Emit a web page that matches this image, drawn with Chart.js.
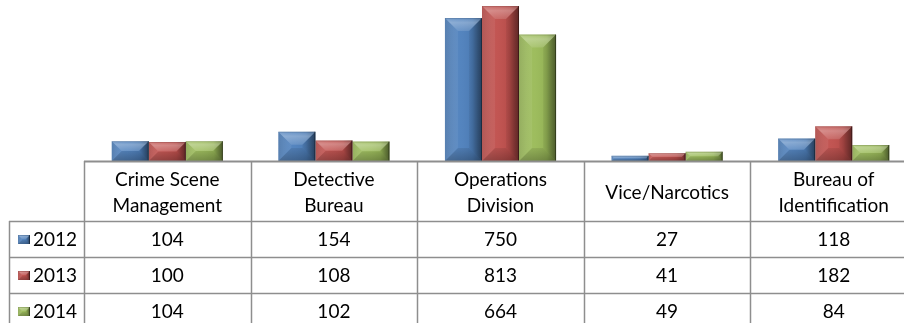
<!DOCTYPE html>
<html>
<head>
<meta charset="utf-8">
<script src="https://cdn.jsdelivr.net/npm/chart.js@4/dist/chart.umd.min.js"></script>
<style>
  html, body { margin: 0; padding: 0; background: #ffffff; overflow: hidden; }
  #wrap { position: relative; width: 920px; height: 323px; }
</style>
</head>
<body>
<div id="wrap"><canvas id="chart"></canvas></div>
<script>
// Divisions shown along the axis (multi-line headers of the data table)
const divisions = [
  ['Crime Scene', 'Management'],
  ['Detective', 'Bureau'],
  ['Operations', 'Division'],
  'Vice/Narcotics',
  ['Bureau of', 'Identification']
];
const years = ['2012', '2013', '2014'];
const cases2012 = [104, 154, 750, 27, 118];
const cases2013 = [100, 108, 813, 41, 182];
const cases2014 = [104, 102, 664, 49, 84];
const seriesColors = ['#4F81BD', '#C0504D', '#9BBB59'];

const FONT = 'Lato, "Open Sans", sans-serif';
const LINE = '#8e8e8e';

// Polygon helper
function poly(ctx, pts, fill) {
  ctx.beginPath();
  ctx.moveTo(pts[0][0], pts[0][1]);
  for (let i = 1; i < pts.length; i++) ctx.lineTo(pts[i][0], pts[i][1]);
  ctx.closePath();
  ctx.fillStyle = fill;
  ctx.fill();
}

// Soft bevel shading over an already-filled rectangle
function bevel(ctx, l, t, r, b, depth) {
  const w = r - l, h = b - t;
  if (w <= 0 || h <= 0) return;
  const d = Math.min(depth, w / 2, h / 2);
  // face: light on the left, shaded towards the right
  const g = ctx.createLinearGradient(l, 0, r, 0);
  g.addColorStop(0, 'rgba(255,255,255,0.10)');
  g.addColorStop(0.4, 'rgba(255,255,255,0.03)');
  g.addColorStop(0.75, 'rgba(0,0,0,0.06)');
  g.addColorStop(1, 'rgba(0,0,0,0.30)');
  ctx.fillStyle = g;
  ctx.fillRect(l, t, w, h);
  // top facet: highlight fading downwards
  const gt = ctx.createLinearGradient(0, t, 0, t + d);
  gt.addColorStop(0, 'rgba(255,255,255,0.12)');
  gt.addColorStop(0.35, 'rgba(255,255,255,0.30)');
  gt.addColorStop(1, 'rgba(255,255,255,0.12)');
  poly(ctx, [[l, t], [r, t], [r - d, t + d], [l + d, t + d]], gt);
  // bottom facet: shadow
  const gb = ctx.createLinearGradient(0, b - d, 0, b);
  gb.addColorStop(0, 'rgba(0,0,0,0.08)');
  gb.addColorStop(1, 'rgba(0,0,0,0.26)');
  poly(ctx, [[l, b], [r, b], [r - d, b - d], [l + d, b - d]], gb);
  // side facets
  const gl = ctx.createLinearGradient(l, 0, l + d, 0);
  gl.addColorStop(0, 'rgba(0,0,0,0.10)');
  gl.addColorStop(1, 'rgba(255,255,255,0.06)');
  poly(ctx, [[l, t], [l + d, t + d], [l + d, b - d], [l, b]], gl);
  const gr = ctx.createLinearGradient(r - d, 0, r, 0);
  gr.addColorStop(0, 'rgba(0,0,0,0.05)');
  gr.addColorStop(1, 'rgba(0,0,0,0.30)');
  poly(ctx, [[r, t], [r - d, t + d], [r - d, b - d], [r, b]], gr);
  // thin dark right edge and faint outline on top
  ctx.lineWidth = 1;
  ctx.strokeStyle = 'rgba(0,0,0,0.35)';
  ctx.beginPath();
  ctx.moveTo(r - 0.5, t);
  ctx.lineTo(r - 0.5, b);
  ctx.stroke();
  ctx.strokeStyle = 'rgba(0,0,0,0.12)';
  ctx.beginPath();
  ctx.moveTo(l, t + 0.5);
  ctx.lineTo(r, t + 0.5);
  ctx.stroke();
}

// Bevel every bar, using the geometry the bar elements already hold
const bevelPlugin = {
  id: 'bevelBars',
  afterDatasetsDraw(chart) {
    const ctx = chart.ctx;
    ctx.save();
    const a = chart.chartArea;
    ctx.beginPath();
    ctx.rect(a.left, a.top, a.right - a.left, a.bottom - a.top);
    ctx.clip();
    chart.data.datasets.forEach((ds, i) => {
      chart.getDatasetMeta(i).data.forEach(bar => {
        const l = bar.x - bar.width / 2, r = bar.x + bar.width / 2;
        const t = Math.min(bar.y, bar.base), b = Math.max(bar.y, bar.base);
        bevel(ctx, l, t, r, b, 13);
      });
    });
    ctx.restore();
  }
};

// Data table below the axis: grid lines, legend keys and values
const tablePlugin = {
  id: 'dataTable',
  afterDraw(chart) {
    const ctx = chart.ctx;
    const x = chart.scales.x;
    const a = chart.chartArea;
    const n = chart.data.labels.length;
    const colW = (a.right - a.left) / n;
    const headerBottom = a.bottom + 60;
    const rowH = 36;
    const tableLeft = 9;
    const bottom = chart.height;
    ctx.save();
    ctx.strokeStyle = LINE;
    ctx.lineWidth = 1.5;
    // vertical column dividers
    for (let i = 0; i <= n; i++) {
      const cx = Math.round(x.getPixelForValue(i) - colW / 2) + 0.5;
      ctx.beginPath();
      ctx.moveTo(cx, a.bottom);
      ctx.lineTo(cx, bottom);
      ctx.stroke();
    }
    // left border of the legend column
    ctx.beginPath();
    ctx.moveTo(tableLeft + 0.5, headerBottom);
    ctx.lineTo(tableLeft + 0.5, bottom);
    ctx.stroke();
    // row separators
    chart.data.datasets.forEach((ds, r) => {
      const y = Math.round(headerBottom + r * rowH) + 0.5;
      ctx.beginPath();
      ctx.moveTo(tableLeft, y);
      ctx.lineTo(chart.width, y);
      ctx.stroke();
    });
    // axis line / table top
    ctx.lineWidth = 2;
    ctx.beginPath();
    ctx.moveTo(a.left, a.bottom + 0.5);
    ctx.lineTo(chart.width, a.bottom + 0.5);
    ctx.stroke();

    ctx.font = '19px ' + FONT;
    ctx.textBaseline = 'middle';
    chart.data.datasets.forEach((ds, r) => {
      const cy = headerBottom + r * rowH + rowH / 2;
      // legend key
      ctx.fillStyle = ds.backgroundColor;
      ctx.fillRect(18, cy - 4, 12, 9);
      bevel(ctx, 18, cy - 4, 30, cy + 5, 4);
      ctx.fillStyle = '#000000';
      ctx.textAlign = 'left';
      ctx.fillText(ds.label, 33, cy + 1);
      // values
      ctx.textAlign = 'center';
      ds.data.forEach((v, i) => {
        ctx.fillText(String(v), x.getPixelForValue(i), cy + 1);
      });
    });
    ctx.restore();
  }
};

const seriesValues = [cases2012, cases2013, cases2014];

new Chart(document.getElementById('chart'), {
  type: 'bar',
  data: {
    labels: divisions,
    datasets: years.map((y, i) => ({
      label: y,
      data: seriesValues[i],
      backgroundColor: seriesColors[i],
      borderWidth: 0,
      barPercentage: 1.0,
      categoryPercentage: 0.667
    }))
  },
  options: {
    responsive: true,
    maintainAspectRatio: false,
    animation: false,
    devicePixelRatio: 1,
    layout: { padding: { left: 84, right: 3, top: 0, bottom: 0 } },
    plugins: {
      legend: { display: false },
      tooltip: { enabled: false },
      title: { display: false }
    },
    scales: {
      x: {
        offset: true,
        grid: { display: false, drawTicks: false },
        border: { display: false },
        ticks: {
          color: '#000000',
          font: { family: FONT, size: 19, lineHeight: 1.37 },
          padding: 19,
          crossAlign: 'center',
          maxRotation: 0,
          autoSkip: false
        },
        afterFit(scale) { scale.height = 162; }
      },
      y: {
        display: false,
        min: 0,
        max: 845,
        grid: { display: false }
      }
    }
  },
  plugins: [bevelPlugin, tablePlugin]
});
</script>
</body>
</html>
